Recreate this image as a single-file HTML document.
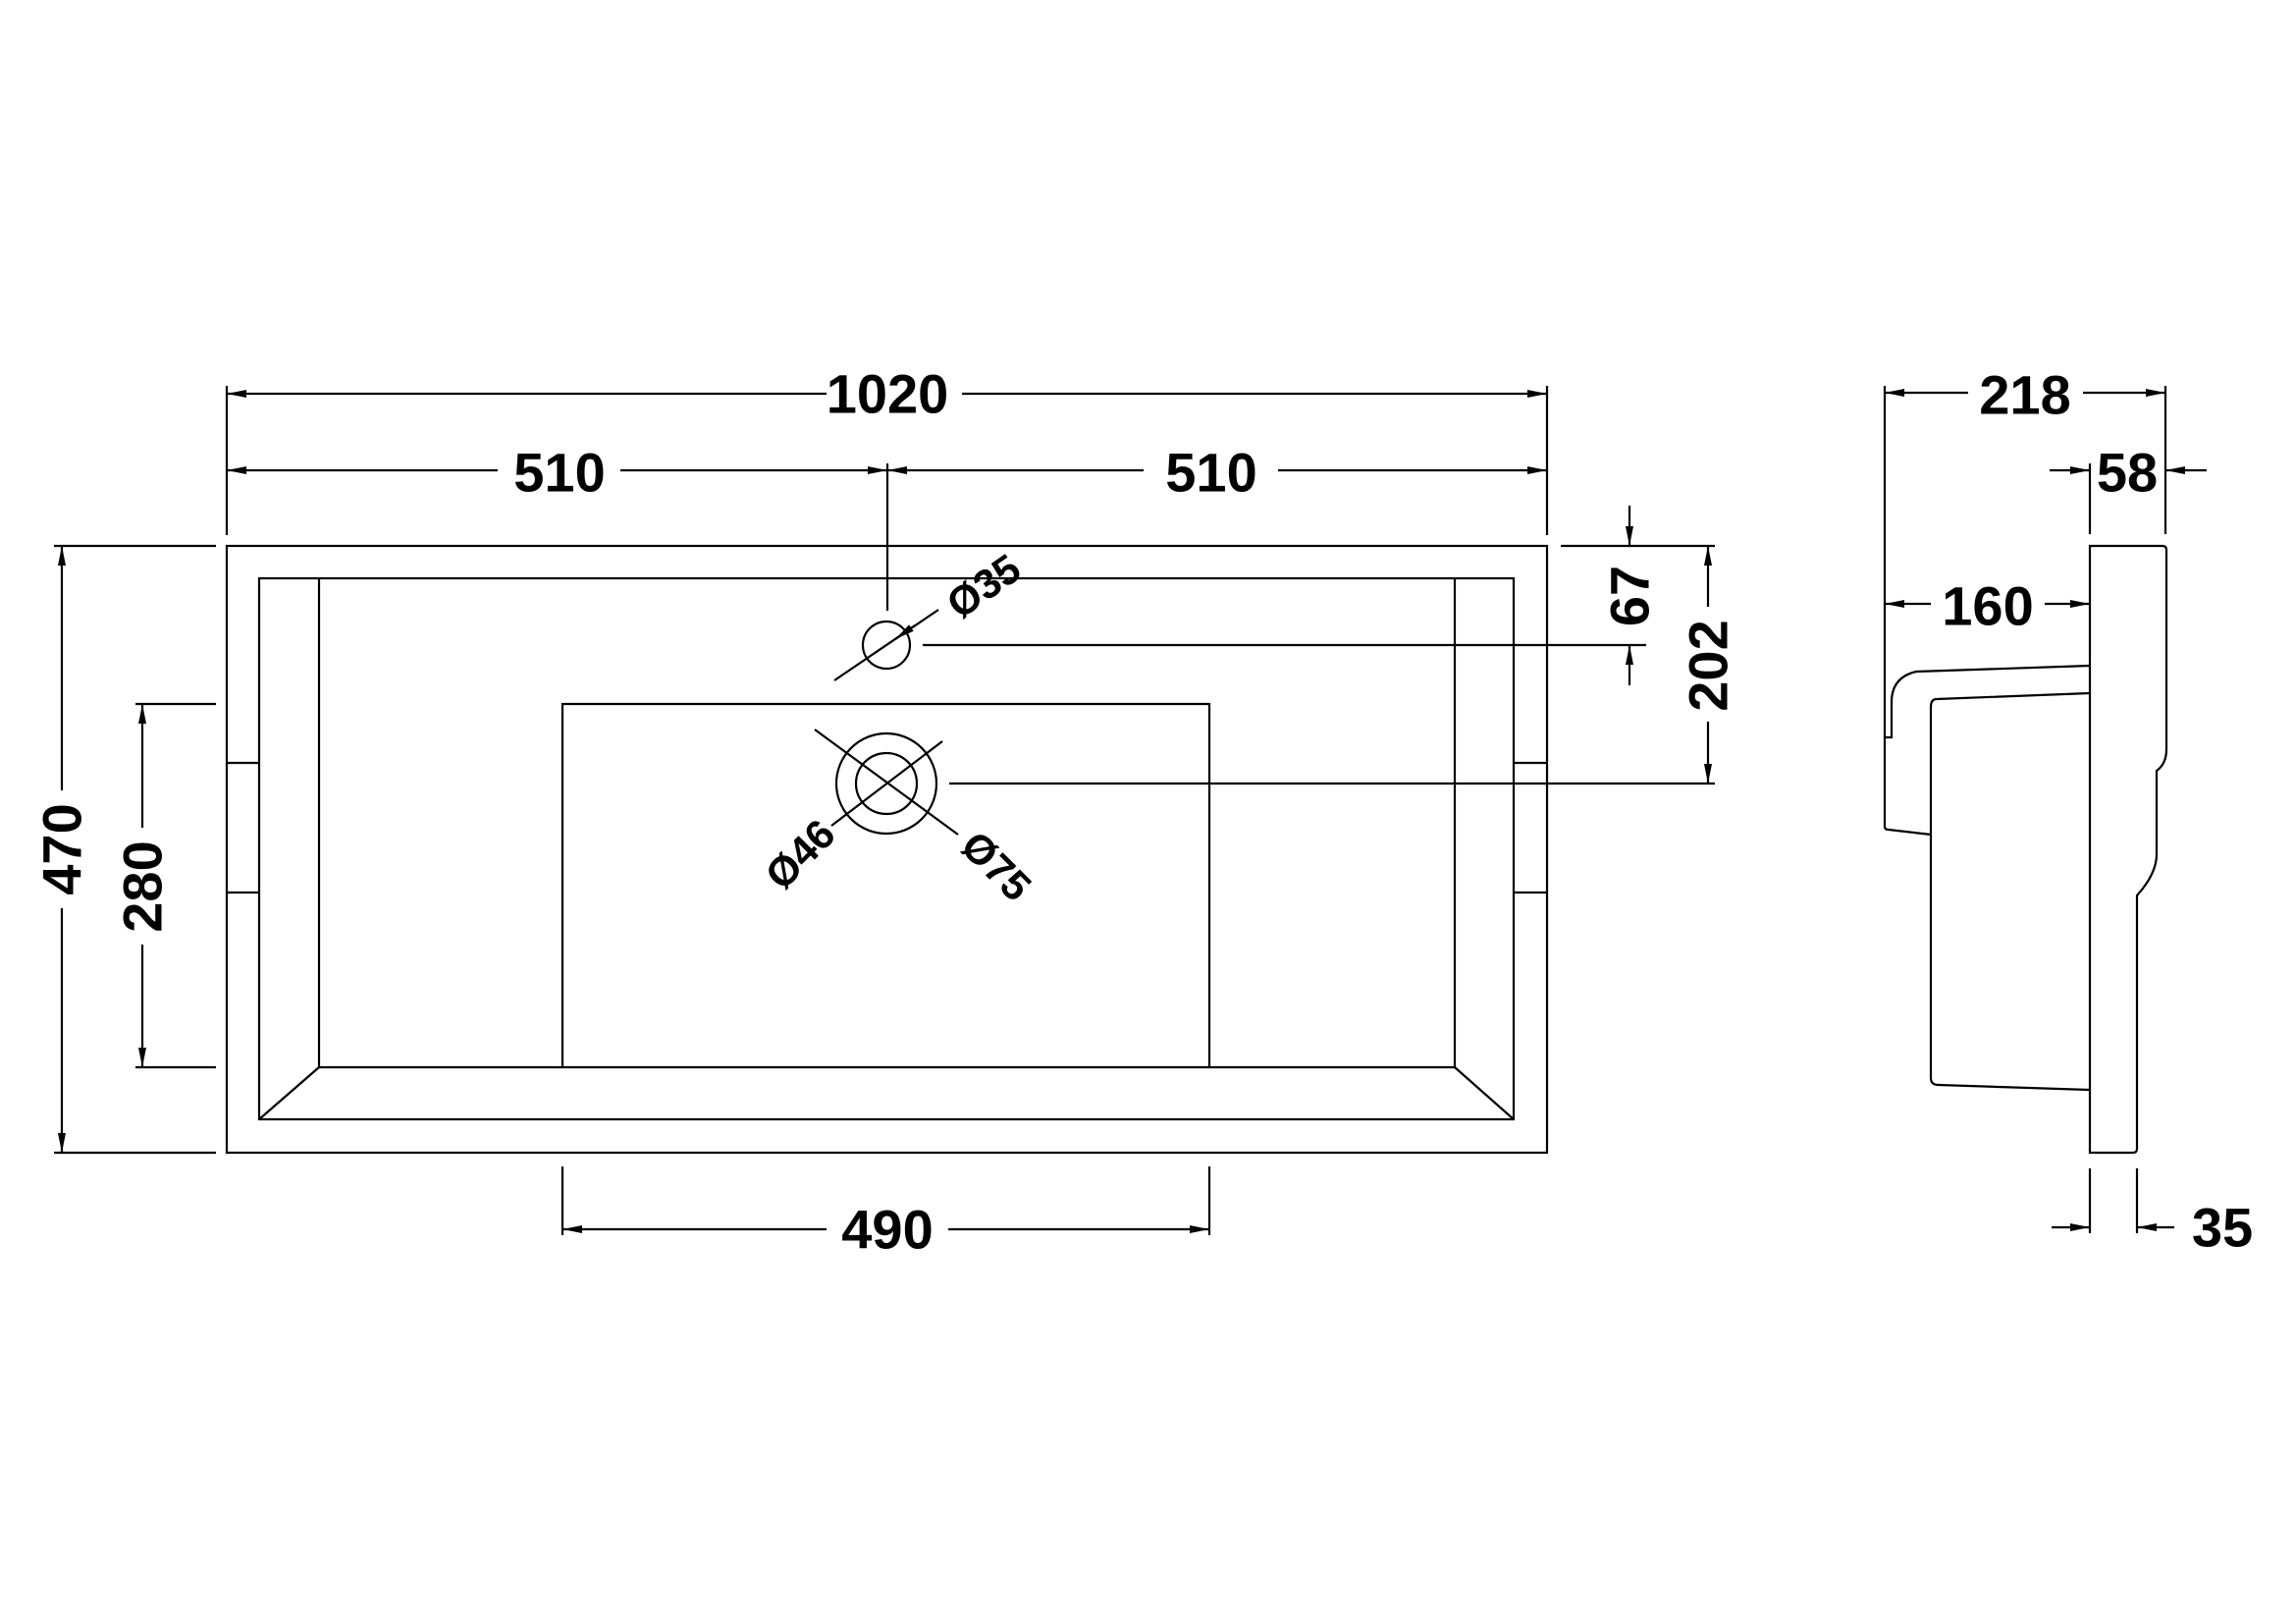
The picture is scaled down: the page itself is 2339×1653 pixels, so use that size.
<!DOCTYPE html>
<html><head><meta charset="utf-8"><style>
html,body{margin:0;padding:0;background:#fff}
svg{display:block}
text{font-family:"Liberation Sans",sans-serif;font-weight:bold;font-size:56px;fill:#000;text-anchor:middle;dominant-baseline:central}
</style></head><body>
<svg width="2339" height="1653" viewBox="0 0 2339 1653" xmlns="http://www.w3.org/2000/svg">
<defs>
<marker id="a" viewBox="0 0 20 8" refX="20" refY="4" markerWidth="20" markerHeight="8" markerUnits="userSpaceOnUse" orient="auto"><path d="M0,0 L20,4 L0,8 z" fill="#000"/></marker>
</defs>
<g stroke="#000" stroke-width="2.2" fill="none">
<!-- plan view -->
<rect x="231" y="556" width="1345" height="618"/>
<rect x="264" y="589" width="1278" height="551"/>
<line x1="325" y1="589" x2="325" y2="1087"/>
<line x1="1482" y1="589" x2="1482" y2="1087"/>
<line x1="325" y1="1087" x2="1482" y2="1087"/>
<line x1="325" y1="1087" x2="264" y2="1140"/>
<line x1="1482" y1="1087" x2="1542" y2="1140"/>
<polyline points="573,1087 573,717 1232,717 1232,1087"/>
<line x1="231" y1="777" x2="264" y2="777"/><line x1="231" y1="909" x2="264" y2="909"/>
<line x1="1542" y1="777" x2="1576" y2="777"/><line x1="1542" y1="909" x2="1576" y2="909"/>
<circle cx="903" cy="657" r="24"/>
<circle cx="903" cy="798" r="51"/>
<circle cx="903" cy="798" r="31"/>
<line x1="850" y1="693" x2="956" y2="621"/>
<line x1="830" y1="743" x2="976" y2="850"/>
<line x1="847" y1="841" x2="960" y2="755"/>
<!-- dims top -->
<line x1="231" y1="393" x2="231" y2="545"/>
<line x1="1576" y1="393" x2="1576" y2="545"/>
<line x1="904" y1="472" x2="904" y2="622"/>
<line x1="842" y1="401" x2="231" y2="401" marker-end="url(#a)"/>
<line x1="980" y1="401" x2="1576" y2="401" marker-end="url(#a)"/>
<line x1="507" y1="479" x2="231" y2="479" marker-end="url(#a)"/>
<line x1="632" y1="479" x2="904" y2="479" marker-end="url(#a)"/>
<line x1="1165" y1="479" x2="904" y2="479" marker-end="url(#a)"/>
<line x1="1302" y1="479" x2="1576" y2="479" marker-end="url(#a)"/>
<!-- left dims -->
<line x1="55" y1="556" x2="220" y2="556"/><line x1="55" y1="1174" x2="220" y2="1174"/>
<line x1="138" y1="717" x2="220" y2="717"/><line x1="138" y1="1087" x2="220" y2="1087"/>
<line x1="63" y1="805" x2="63" y2="556" marker-end="url(#a)"/>
<line x1="63" y1="925" x2="63" y2="1174" marker-end="url(#a)"/>
<line x1="145" y1="843" x2="145" y2="717" marker-end="url(#a)"/>
<line x1="145" y1="962" x2="145" y2="1087" marker-end="url(#a)"/>
<!-- bottom 490 -->
<line x1="573" y1="1188" x2="573" y2="1258"/><line x1="1232" y1="1188" x2="1232" y2="1258"/>
<line x1="842" y1="1252" x2="573" y2="1252" marker-end="url(#a)"/>
<line x1="966" y1="1252" x2="1232" y2="1252" marker-end="url(#a)"/>
<!-- right dims -->
<line x1="1590" y1="556" x2="1747" y2="556"/>
<line x1="940" y1="657" x2="1677" y2="657"/>
<line x1="967" y1="798" x2="1747" y2="798"/>
<line x1="1660" y1="515" x2="1660" y2="556" marker-end="url(#a)"/>
<line x1="1660" y1="698" x2="1660" y2="657" marker-end="url(#a)"/>
<line x1="1740" y1="618" x2="1740" y2="556" marker-end="url(#a)"/>
<line x1="1740" y1="735" x2="1740" y2="798" marker-end="url(#a)"/>
<!-- side view -->
<path d="M2129,556 H2203 Q2207,556 2207,560 V763 Q2207,778 2197,785 V870 Q2197,890 2177,912 Q2177,920 2177,930 V1170 Q2177,1174 2173,1174 H2129 Z"/>
<path d="M2129,678 L1952,684 Q1927,690 1927,715 V751 H1920"/>
<line x1="1920" y1="393" x2="1920" y2="842"/>
<path d="M1920,842 Q1920,845 1924,845 L1967,850"/>
<path d="M2129,706 L1973,712 Q1967,712 1967,720 V1098 Q1967,1105 1975,1105 L2129,1110"/>
<line x1="2129" y1="472" x2="2129" y2="544"/>
<line x1="2206" y1="393" x2="2206" y2="544"/>
<line x1="2005" y1="400" x2="1920" y2="400" marker-end="url(#a)"/>
<line x1="2122" y1="400" x2="2206" y2="400" marker-end="url(#a)"/>
<line x1="2088" y1="479" x2="2129" y2="479" marker-end="url(#a)"/>
<line x1="2248" y1="479" x2="2206" y2="479" marker-end="url(#a)"/>
<line x1="1967" y1="615" x2="1920" y2="615" marker-end="url(#a)"/>
<line x1="2083" y1="615" x2="2129" y2="615" marker-end="url(#a)"/>
<line x1="2129" y1="1190" x2="2129" y2="1256"/><line x1="2177" y1="1190" x2="2177" y2="1256"/>
<line x1="2090" y1="1250" x2="2129" y2="1250" marker-end="url(#a)"/>
<line x1="2215" y1="1250" x2="2177" y2="1250" marker-end="url(#a)"/>
</g>
<g stroke="#000" stroke-width="2.2">
<line x1="932" y1="637" x2="912" y2="651" marker-end="url(#a)"/>
</g>
<text x="904" y="401">1020</text>
<text x="570" y="481">510</text>
<text x="1234" y="481">510</text>
<text x="904" y="1252">490</text>
<text transform="translate(63,865) rotate(-90)">470</text>
<text transform="translate(145,903) rotate(-90)">280</text>
<text transform="translate(1660,607) rotate(-90)">67</text>
<text transform="translate(1740,678) rotate(-90)">202</text>
<text transform="translate(1002,597) rotate(-35)" style="font-size:42px">Ø35</text>
<text transform="translate(815,870) rotate(-45)" style="font-size:42px">Ø46</text>
<text transform="translate(1015,882) rotate(45)" style="font-size:42px">Ø75</text>
<text x="2063" y="402">218</text>
<text x="2167" y="481">58</text>
<text x="2025" y="617">160</text>
<text x="2264" y="1250">35</text>
</svg>
</body></html>
